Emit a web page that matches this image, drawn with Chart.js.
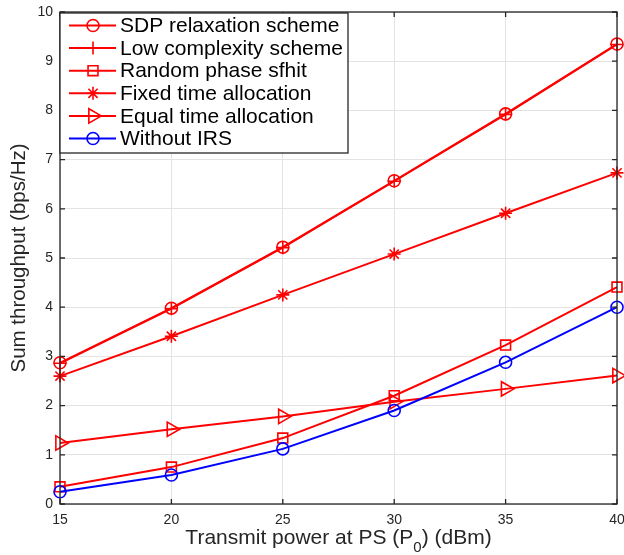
<!DOCTYPE html>
<html>
<head>
<meta charset="utf-8">
<script src="https://cdn.jsdelivr.net/npm/chart.js@4/dist/chart.umd.min.js"></script>
<style>
html,body{margin:0;padding:0;background:#fff;}
#wrap{width:624px;height:555px;position:relative;}
</style>
</head>
<body>
<div id="wrap"><canvas id="c" width="624" height="555"></canvas></div>
<script>
const powers = [15, 20, 25, 30, 35, 40];
const xTicks = [15, 20, 25, 30, 35, 40];
const yTicks = [0, 1, 2, 3, 4, 5, 6, 7, 8, 9, 10];
const sdpRelaxation = [2.87, 3.98, 5.22, 6.57, 7.93, 9.35];
const lowComplexity = [2.86, 3.97, 5.21, 6.56, 7.92, 9.34];
const randomPhase = [0.35, 0.75, 1.34, 2.20, 3.23, 4.41];
const fixedTime = [2.60, 3.41, 4.25, 5.08, 5.91, 6.73];
const equalTime = [1.24, 1.52, 1.78, 2.08, 2.34, 2.61];
const withoutIRS = [0.25, 0.59, 1.12, 1.90, 2.88, 4.00];
const seriesNames = ['SDP relaxation scheme', 'Low complexity scheme', 'Random phase sfhit', 'Fixed time allocation', 'Equal time allocation', 'Without IRS'];

const RED = '#ff0000', BLUE = '#0000ff', AX = '#262626';
const FAM = '"Liberation Sans", Arial, sans-serif';
function pts(arr){ return powers.map((p,i)=>({x:p, y:arr[i]})); }
function mk(label, data, color, style, radius, rot){
  return {label, data: pts(data), borderColor: color, backgroundColor: 'rgba(0,0,0,0)',
    pointBackgroundColor: 'rgba(0,0,0,0)', pointBorderColor: color, pointStyle: style,
    pointRadius: radius, pointHoverRadius: radius, pointBorderWidth: 1.6, pointRotation: rot||0,
    borderWidth: 2, tension: 0, fill: false, clip: false};
}
const datasets = [
  mk(seriesNames[0], sdpRelaxation, RED, 'circle', 6),
  mk(seriesNames[1], lowComplexity, RED, 'cross', 6.5),
  mk(seriesNames[2], randomPhase, RED, 'rect', 7),
  mk(seriesNames[3], fixedTime, RED, 'star', 6.5),
  mk(seriesNames[4], equalTime, RED, 'triangle', 8.3, 90),
  mk(seriesNames[5], withoutIRS, BLUE, 'circle', 6)
];
datasets.forEach((d,i)=>{ d.order = datasets.length - i; });

const framePlugin = {
  id: 'frame',
  afterDatasetsDraw(chart){
    const ctx = chart.ctx, ca = chart.chartArea;
    const xs = chart.scales.x, ys = chart.scales.y;
    ctx.save();
    ctx.strokeStyle = AX; ctx.lineWidth = 1.3;
    ctx.strokeRect(ca.left, ca.top, ca.right - ca.left, ca.bottom - ca.top);
    ctx.beginPath();
    const tl = 5;
    xTicks.forEach(v=>{
      const x = xs.getPixelForValue(v);
      ctx.moveTo(x, ca.bottom); ctx.lineTo(x, ca.bottom - tl);
      ctx.moveTo(x, ca.top); ctx.lineTo(x, ca.top + tl);
    });
    yTicks.forEach(v=>{
      const y = ys.getPixelForValue(v);
      ctx.moveTo(ca.left, y); ctx.lineTo(ca.left + tl, y);
      ctx.moveTo(ca.right, y); ctx.lineTo(ca.right - tl, y);
    });
    ctx.stroke();

    // legend box
    const x0 = ca.left, y0 = ca.top + 1, w = 288, h = 140;
    ctx.fillStyle = '#fff'; ctx.fillRect(x0, y0, w, h);
    ctx.strokeStyle = AX; ctx.lineWidth = 1.3; ctx.strokeRect(x0, y0, w, h);
    chart.data.datasets.forEach((ds, i)=>{
      const cy = y0 + 12.5 + i * 22.6;
      ctx.strokeStyle = ds.borderColor; ctx.lineWidth = 2;
      ctx.beginPath(); ctx.moveTo(x0 + 9, cy); ctx.lineTo(x0 + 56, cy); ctx.stroke();
      ctx.fillStyle = 'rgba(0,0,0,0)'; ctx.strokeStyle = ds.borderColor; ctx.lineWidth = ds.pointBorderWidth;
      Chart.helpers.drawPoint(ctx, {pointStyle: ds.pointStyle, rotation: ds.pointRotation, radius: ds.pointRadius, borderWidth: ds.pointBorderWidth}, x0 + 33, cy);
      ctx.fillStyle = '#000'; ctx.font = '21px ' + FAM;
      ctx.textBaseline = 'middle'; ctx.textAlign = 'left';
      ctx.fillText(ds.label, x0 + 60, cy + 1);
    });

    // axis titles
    ctx.fillStyle = AX;
    ctx.textBaseline = 'alphabetic';
    const p1 = 'Transmit power at PS (P', sub = '0', p2 = ') (dBm)';
    ctx.font = '21px ' + FAM;
    const w1 = ctx.measureText(p1).width, w3 = ctx.measureText(p2).width;
    ctx.font = '15px ' + FAM;
    const w2 = ctx.measureText(sub).width;
    const total = w1 + w2 + w3;
    let sx = (ca.left + ca.right) / 2 - total / 2;
    const by = 544;
    ctx.textAlign = 'left';
    ctx.font = '21px ' + FAM;
    ctx.fillText(p1, sx, by);
    ctx.font = '15px ' + FAM;
    ctx.fillText(sub, sx + w1, by + 8);
    ctx.font = '21px ' + FAM;
    ctx.fillText(p2, sx + w1 + w2, by);

    ctx.translate(19, (ca.top + ca.bottom) / 2);
    ctx.rotate(-Math.PI / 2);
    ctx.textAlign = 'center'; ctx.textBaseline = 'middle';
    ctx.font = '20.5px ' + FAM;
    ctx.fillText('Sum throughput (bps/Hz)', 0, 0);
    ctx.restore();
  }
};

new Chart(document.getElementById('c'), {
  type: 'line',
  data: { datasets },
  options: {
    responsive: false, animation: false, devicePixelRatio: 1,
    layout: { autoPadding: false, padding: { left: 0, right: 7, top: 12, bottom: 0 } },
    plugins: { legend: { display: false }, tooltip: { enabled: false } },
    scales: {
      x: {
        type: 'linear', min: 15, max: 40,
        afterBuildTicks: s => { s.ticks = xTicks.map(v=>({value:v})); },
        afterFit: s => { s.height = 51; s.paddingLeft = 0; s.paddingRight = 0; },
        grid: { color: '#e3e3e3', lineWidth: 1, drawTicks: false },
        border: { display: false },
        ticks: { color: AX, font: { size: 14, family: FAM }, padding: 8, maxRotation: 0 }
      },
      y: {
        type: 'linear', min: 0, max: 10,
        afterBuildTicks: s => { s.ticks = yTicks.map(v=>({value:v})); },
        afterFit: s => { s.width = 60; s.paddingTop = 0; s.paddingBottom = 0; },
        grid: { color: '#e3e3e3', lineWidth: 1, drawTicks: false },
        border: { display: false },
        ticks: { color: AX, font: { size: 14, family: FAM }, padding: 7 }
      }
    }
  },
  plugins: [framePlugin]
});
</script>
</body>
</html>
